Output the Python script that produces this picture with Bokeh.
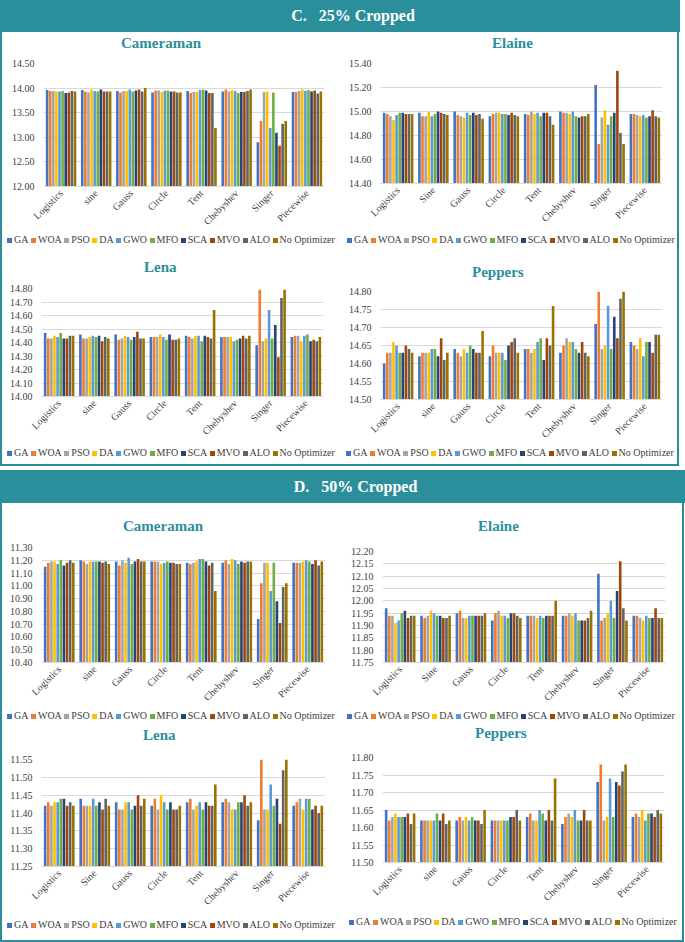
import math
from bokeh.plotting import figure
from bokeh.models import (ColumnDataSource, FactorRange, Range1d, FixedTicker,
                          NumeralTickFormatter, Div, Spacer)
from bokeh.layouts import column, row
from bokeh.transform import dodge
from bokeh.embed import file_html
from bokeh.resources import INLINE

# ---------------- data ----------------
series = ["GA", "WOA", "PSO", "DA", "GWO", "MFO", "SCA", "MVO", "ALO", "No Optimizer"]
colors = ["#4472C4", "#ED7D31", "#A5A5A5", "#FFC000", "#5B9BD5",
          "#70AD47", "#264478", "#9E480E", "#636363", "#997300"]

cats_lower = ["Logistics", "sine", "Gauss", "Circle", "Tent", "Chebyshev", "Singer", "Piecewise"]
cats_upper = ["Logistics", "Sine", "Gauss", "Circle", "Tent", "Chebyshev", "Singer", "Piecewise"]

# rows = categories, columns = GA, WOA, PSO, DA, GWO, MFO, SCA, MVO, ALO, No Optimizer
c25_cameraman = [
    [13.96, 13.94, 13.94, 13.93, 13.93, 13.94, 13.90, 13.91, 13.94, 13.93],
    [13.96, 13.93, 13.91, 13.97, 13.94, 13.93, 13.97, 13.93, 13.93, 13.93],
    [13.94, 13.91, 13.94, 13.94, 13.97, 13.93, 13.95, 13.97, 13.93, 14.00],
    [13.91, 13.95, 13.95, 13.92, 13.95, 13.95, 13.93, 13.93, 13.91, 13.91],
    [13.94, 13.90, 13.92, 13.92, 13.96, 13.97, 13.95, 13.90, 13.90, 13.19],
    [13.93, 13.97, 13.93, 13.96, 13.94, 13.90, 13.92, 13.92, 13.94, 13.97],
    [12.90, 13.33, 13.92, 13.93, 13.19, 13.91, 13.09, 12.83, 13.27, 13.33],
    [13.92, 13.92, 13.94, 13.97, 13.94, 13.96, 13.93, 13.95, 13.89, 13.93],
]
c25_elaine = [
    [14.99, 14.98, 14.96, 14.93, 14.97, 14.99, 14.99, 14.98, 14.98, 14.98],
    [14.99, 14.96, 14.96, 15.00, 14.96, 14.98, 15.00, 14.99, 14.98, 14.97],
    [15.00, 14.97, 14.96, 14.95, 14.99, 14.97, 14.99, 14.97, 14.98, 14.94],
    [14.96, 14.98, 14.99, 14.99, 14.98, 14.98, 14.97, 14.99, 14.97, 14.96],
    [14.98, 14.97, 15.00, 14.98, 14.99, 14.96, 14.99, 14.99, 14.96, 14.89],
    [15.00, 14.99, 14.99, 14.98, 15.00, 14.96, 14.95, 14.96, 14.96, 14.98],
    [15.22, 14.73, 14.95, 15.01, 14.89, 14.96, 14.99, 15.34, 14.82, 14.73],
    [14.98, 14.98, 14.97, 14.96, 14.97, 14.95, 14.96, 15.01, 14.96, 14.95],
]
c25_lena = [
    [14.47, 14.43, 14.43, 14.45, 14.44, 14.47, 14.43, 14.43, 14.45, 14.45],
    [14.46, 14.43, 14.43, 14.44, 14.45, 14.44, 14.45, 14.41, 14.44, 14.43],
    [14.46, 14.42, 14.43, 14.45, 14.44, 14.42, 14.44, 14.48, 14.43, 14.43],
    [14.44, 14.44, 14.44, 14.46, 14.44, 14.42, 14.46, 14.42, 14.42, 14.43],
    [14.45, 14.44, 14.43, 14.45, 14.45, 14.41, 14.45, 14.44, 14.43, 14.64],
    [14.44, 14.44, 14.44, 14.44, 14.41, 14.42, 14.43, 14.45, 14.43, 14.45],
    [14.38, 14.79, 14.41, 14.43, 14.64, 14.43, 14.53, 14.29, 14.73, 14.79],
    [14.44, 14.45, 14.45, 14.41, 14.45, 14.46, 14.41, 14.42, 14.41, 14.44],
]
c25_peppers = [
    [14.60, 14.63, 14.63, 14.66, 14.65, 14.63, 14.63, 14.65, 14.64, 14.63],
    [14.62, 14.63, 14.63, 14.63, 14.64, 14.64, 14.62, 14.67, 14.61, 14.63],
    [14.64, 14.63, 14.62, 14.64, 14.63, 14.65, 14.64, 14.63, 14.63, 14.69],
    [14.62, 14.65, 14.63, 14.63, 14.63, 14.61, 14.65, 14.66, 14.67, 14.63],
    [14.64, 14.64, 14.63, 14.64, 14.66, 14.67, 14.61, 14.67, 14.65, 14.76],
    [14.63, 14.65, 14.67, 14.66, 14.66, 14.64, 14.63, 14.66, 14.63, 14.62],
    [14.71, 14.80, 14.64, 14.65, 14.76, 14.64, 14.73, 14.67, 14.78, 14.80],
    [14.66, 14.65, 14.64, 14.67, 14.62, 14.66, 14.66, 14.63, 14.68, 14.68],
]
c50_cameraman = [
    [11.15, 11.18, 11.19, 11.19, 11.17, 11.20, 11.16, 11.18, 11.20, 11.18],
    [11.20, 11.19, 11.17, 11.19, 11.19, 11.19, 11.19, 11.18, 11.19, 11.17],
    [11.19, 11.16, 11.20, 11.18, 11.22, 11.17, 11.19, 11.21, 11.19, 11.19],
    [11.19, 11.19, 11.19, 11.17, 11.18, 11.19, 11.18, 11.18, 11.17, 11.17],
    [11.18, 11.17, 11.18, 11.19, 11.21, 11.21, 11.19, 11.16, 11.18, 10.96],
    [11.18, 11.20, 11.17, 11.21, 11.20, 11.17, 11.19, 11.18, 11.19, 11.19],
    [10.74, 11.02, 11.18, 11.18, 10.96, 11.18, 10.88, 10.71, 10.99, 11.02],
    [11.18, 11.18, 11.18, 11.19, 11.20, 11.19, 11.17, 11.20, 11.16, 11.19],
]
c50_elaine = [
    [11.97, 11.94, 11.94, 11.91, 11.92, 11.95, 11.96, 11.93, 11.94, 11.94],
    [11.94, 11.93, 11.94, 11.96, 11.95, 11.94, 11.94, 11.93, 11.93, 11.94],
    [11.95, 11.96, 11.93, 11.93, 11.94, 11.94, 11.94, 11.94, 11.94, 11.95],
    [11.92, 11.95, 11.96, 11.94, 11.94, 11.93, 11.95, 11.95, 11.94, 11.93],
    [11.94, 11.94, 11.94, 11.93, 11.94, 11.93, 11.94, 11.94, 11.94, 12.00],
    [11.94, 11.94, 11.95, 11.94, 11.95, 11.92, 11.92, 11.92, 11.93, 11.96],
    [12.11, 11.92, 11.93, 11.95, 12.00, 11.93, 12.04, 12.16, 11.97, 11.92],
    [11.94, 11.94, 11.93, 11.92, 11.94, 11.93, 11.93, 11.97, 11.93, 11.93],
]
c50_lena = [
    [11.42, 11.43, 11.42, 11.43, 11.43, 11.44, 11.44, 11.42, 11.43, 11.42],
    [11.44, 11.42, 11.42, 11.42, 11.44, 11.42, 11.43, 11.41, 11.44, 11.42],
    [11.43, 11.41, 11.41, 11.43, 11.43, 11.41, 11.42, 11.45, 11.42, 11.44],
    [11.42, 11.44, 11.41, 11.45, 11.43, 11.41, 11.43, 11.41, 11.41, 11.42],
    [11.43, 11.44, 11.41, 11.42, 11.43, 11.41, 11.43, 11.42, 11.42, 11.48],
    [11.43, 11.44, 11.43, 11.41, 11.41, 11.43, 11.43, 11.45, 11.42, 11.43],
    [11.38, 11.55, 11.41, 11.41, 11.48, 11.42, 11.44, 11.37, 11.52, 11.55],
    [11.42, 11.43, 11.44, 11.41, 11.44, 11.44, 11.41, 11.42, 11.40, 11.42],
]
c50_peppers = [
    [11.65, 11.62, 11.63, 11.64, 11.63, 11.63, 11.63, 11.64, 11.61, 11.64],
    [11.62, 11.62, 11.62, 11.62, 11.62, 11.64, 11.62, 11.64, 11.61, 11.62],
    [11.62, 11.63, 11.62, 11.63, 11.62, 11.63, 11.62, 11.62, 11.61, 11.65],
    [11.62, 11.62, 11.62, 11.62, 11.62, 11.62, 11.63, 11.63, 11.65, 11.62],
    [11.63, 11.64, 11.62, 11.62, 11.65, 11.64, 11.62, 11.65, 11.62, 11.74],
    [11.61, 11.63, 11.64, 11.63, 11.65, 11.62, 11.62, 11.65, 11.62, 11.62],
    [11.73, 11.78, 11.62, 11.63, 11.74, 11.63, 11.73, 11.72, 11.76, 11.78],
    [11.63, 11.64, 11.63, 11.65, 11.62, 11.64, 11.64, 11.63, 11.65, 11.64],
]

ticks_c25_cameraman = [12.00, 12.50, 13.00, 13.50, 14.00, 14.50]
ticks_c25_elaine = [14.40, 14.60, 14.80, 15.00, 15.20, 15.40]
ticks_c25_lena = [14.00, 14.10, 14.20, 14.30, 14.40, 14.50, 14.60, 14.70, 14.80]
ticks_c25_peppers = [14.50, 14.55, 14.60, 14.65, 14.70, 14.75, 14.80]
ticks_c50_cameraman = [10.40, 10.50, 10.60, 10.70, 10.80, 10.90, 11.00, 11.10, 11.20, 11.30]
ticks_c50_elaine = [11.75, 11.80, 11.85, 11.90, 11.95, 12.00, 12.05, 12.10, 12.15, 12.20]
ticks_c50_lena = [11.25, 11.30, 11.35, 11.40, 11.45, 11.50, 11.55]
ticks_c50_peppers = [11.50, 11.55, 11.60, 11.65, 11.70, 11.75, 11.80]

# ---------------- style ----------------
TEAL = "#2A8F9B"
FONT = "Liberation Serif"
TXT = "#404040"
GRID = "#D9D9D9"
TITLE_W = {"Cameraman": 80, "Elaine": 41, "Lena": 33, "Peppers": 52}


def legend_html():
    parts = []
    for j, (name, col) in enumerate(zip(series, colors)):
        gap = "0px" if j == len(series) - 1 else "2.5px"
        parts.append(
            '<span style="display:inline-block;width:5px;height:5px;background:%s;'
            'margin-right:2px;vertical-align:middle;text-indent:0;"></span>'
            '<span style="margin-right:%s;">%s</span>' % (col, gap, name))
    return "".join(parts)


def make_cell(title, cats, rows, ticks, cell, frame, title_xy, legend_xy, title_h):
    cx0, cy0, cx1, cy1 = cell
    fx0, fy0, fx1, fy1 = frame
    w = cx1 - cx0
    fig_top = cy0 + title_h
    leg_top = legend_xy[1] - 7
    p = figure(width=w, height=leg_top - fig_top,
               x_range=FactorRange(*cats), y_range=Range1d(ticks[0], ticks[-1]),
               min_border_left=fx0 - cx0, min_border_right=cx1 - fx1,
               min_border_top=fy0 - fig_top, min_border_bottom=leg_top - fy1,
               output_backend="svg", toolbar_location=None)
    p.outline_line_color = None
    data = {"cat": cats}
    for j in range(len(series)):
        data["s%d" % j] = [r[j] for r in rows]
    src = ColumnDataSource(data)
    for j in range(len(series)):
        p.vbar(x=dodge("cat", (j - 4.5) * 0.088, range=p.x_range), top="s%d" % j,
               bottom=ticks[0], width=0.074, source=src,
               fill_color=colors[j], line_color=None)
    p.yaxis.ticker = FixedTicker(ticks=ticks)
    p.yaxis.formatter = NumeralTickFormatter(format="0.00")
    p.yaxis.axis_line_color = None
    p.yaxis.major_tick_line_color = None
    p.yaxis.minor_tick_line_color = None
    p.yaxis.major_tick_out = 0
    p.yaxis.major_label_standoff = 9
    p.yaxis.major_label_text_font = FONT
    p.yaxis.major_label_text_font_size = "10px"
    p.yaxis.major_label_text_color = TXT
    p.xaxis.axis_line_color = GRID
    p.xaxis.major_tick_line_color = None
    p.xaxis.minor_tick_line_color = None
    p.xaxis.major_tick_out = 0
    p.xaxis.major_label_orientation = math.pi / 4
    p.xaxis.major_label_standoff = 5
    p.xaxis.major_label_text_font = FONT
    p.xaxis.major_label_text_font_size = "10px"
    p.xaxis.major_label_text_color = TXT
    p.xgrid.grid_line_color = None
    p.ygrid.grid_line_color = GRID
    p.ygrid.ticker = FixedTicker(ticks=ticks)

    lh = cy1 - leg_top
    ldiv = Div(text=legend_html(), width=w, height=lh, margin=0,
               styles={"background-color": "white", "color": TXT, "font-family": FONT,
                       "font-size": "10px", "line-height": "14px",
                       "text-indent": "%dpx" % (legend_xy[0] - cx0),
                       "white-space": "nowrap"})

    indent = title_xy[0] - cx0 - TITLE_W[title] / 2
    line_h = 2 * (title_xy[1] - cy0)
    tdiv = Div(text=title, width=w, height=title_h, margin=0,
               styles={"background-color": "white", "color": TEAL, "font-family": FONT,
                       "font-weight": "bold", "font-size": "15px", "text-align": "left",
                       "line-height": "%dpx" % line_h, "text-indent": "%dpx" % indent,
                       "white-space": "nowrap"})
    return column(tdiv, p, ldiv, spacing=0, styles={"background-color": "white"})


# cells / frames in page coordinates (x0, y0, x1, y1)
f1 = make_cell("Cameraman", cats_lower, c25_cameraman, ticks_c25_cameraman,
               (2, 32, 342, 250), (43, 63, 324, 186), (161, 43), (7, 240), 22)
f2 = make_cell("Elaine", cats_upper, c25_elaine, ticks_c25_elaine,
               (342, 32, 677, 250), (380, 63, 662, 183), (513, 43), (347, 240), 22)
f3 = make_cell("Lena", cats_lower, c25_lena, ticks_c25_lena,
               (2, 250, 342, 464), (41, 288, 323, 396), (161, 267), (7, 453), 30)
f4 = make_cell("Peppers", cats_lower, c25_peppers, ticks_c25_peppers,
               (342, 250, 677, 464), (380, 291, 662, 400), (498, 272), (346, 453), 32)
g1 = make_cell("Cameraman", cats_lower, c50_cameraman, ticks_c50_cameraman,
               (2, 503, 342, 724), (41, 547, 325, 663), (163, 526), (7, 716), 36)
g2 = make_cell("Elaine", cats_upper, c50_elaine, ticks_c50_elaine,
               (342, 503, 682, 724), (382, 551, 665, 662), (499, 526), (347, 716), 36)
g3 = make_cell("Lena", cats_upper, c50_lena, ticks_c50_lena,
               (2, 724, 342, 940), (41, 759, 325, 866), (160, 735), (7, 925), 22)
g4 = make_cell("Peppers", cats_lower, c50_peppers, ticks_c50_peppers,
               (342, 724, 682, 940), (382, 757, 664, 862), (501, 733), (349, 922), 20)

hdr_style = {"background-color": TEAL, "color": "white", "font-family": FONT,
             "font-weight": "bold", "font-size": "16px", "text-align": "center",
             "line-height": "32px", "text-indent": "26px", "white-space": "nowrap"}
panel_style = {"background-color": TEAL, "padding": "0px 2px 2px 2px"}

header_c = Div(text="C.&nbsp;&nbsp;&nbsp;25% Cropped", width=680, height=32, margin=0,
               styles=hdr_style)
panel_c = column(row(f1, f2, spacing=0), row(f3, f4, spacing=0), spacing=0, styles=panel_style)
header_d = Div(text="D.&nbsp;&nbsp;&nbsp;50% Cropped", width=685, height=33, margin=0,
               styles=dict(hdr_style, **{"line-height": "33px"}))
panel_d = column(row(g1, g2, spacing=0), row(g3, g4, spacing=0), spacing=0, styles=panel_style)

page = column(header_c, panel_c, Spacer(width=685, height=4, margin=0), header_d, panel_d,
              spacing=0, margin=0)

open("out.html", "w").write(file_html(page, INLINE))
